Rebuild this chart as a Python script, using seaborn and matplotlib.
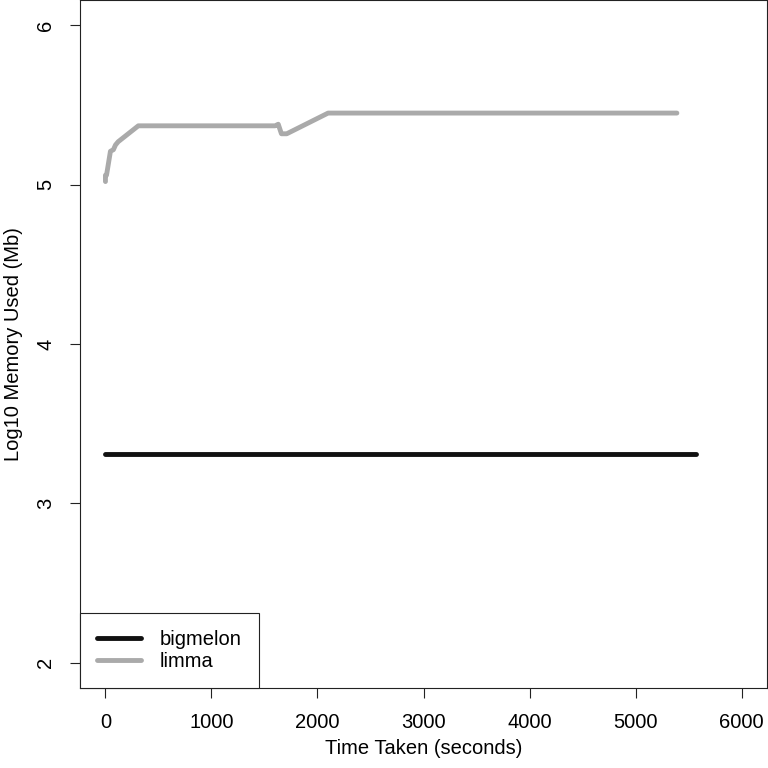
import numpy as np
import pandas as pd
import seaborn as sns
import matplotlib.pyplot as plt
from matplotlib.lines import Line2D

# memory usage over time
bigmelon_time = [0, 5570]
bigmelon_mem = [3.31, 3.31]

limma_time = [0, 0, 10, 20, 47, 75, 95, 120, 310, 1600, 1630, 1660, 1710, 2100, 2150, 5390]
limma_mem = [5.02, 5.06, 5.06, 5.10, 5.21, 5.22, 5.25, 5.27, 5.37, 5.37, 5.38, 5.32, 5.32, 5.45, 5.45, 5.45]

df = pd.concat([
    pd.DataFrame({"time": bigmelon_time, "mem": bigmelon_mem, "method": "bigmelon"}),
    pd.DataFrame({"time": limma_time, "mem": limma_mem, "method": "limma"}),
], ignore_index=True)

sns.set_style("ticks")
plt.rcParams["font.family"] = ["Liberation Sans", "DejaVu Sans"]
plt.rcParams["text.color"] = "black"
plt.rcParams["axes.labelcolor"] = "black"
plt.rcParams["xtick.color"] = "black"
plt.rcParams["ytick.color"] = "black"

fig = plt.figure(figsize=(7.68, 7.68), dpi=100)
ax = fig.add_axes([80 / 768, 80 / 768, 687 / 768, 688 / 768])

sns.lineplot(data=df, x="time", y="mem", hue="method", sort=False,
             palette={"bigmelon": "#111111", "limma": "#aaaaaa"},
             linewidth=3.5, ax=ax, estimator=None, legend=False)

ax.set_xlim(-240, 6240)
ax.set_ylim(1.84, 6.16)
ax.set_xticks(range(0, 7000, 1000))
ax.set_yticks([2, 3, 4, 5, 6])
ax.tick_params(axis="both", labelsize=14.5, length=7, width=0.8, pad=11, color="#222222")
plt.setp(ax.get_yticklabels(), rotation=90, va="center")
for s in ax.spines.values():
    s.set_visible(True)
    s.set_linewidth(0.8)
    s.set_color("#222222")

ax.set_xlabel("Time Taken (seconds)", fontsize=14.5, labelpad=5)
ax.set_ylabel("Log10 Memory Used (Mb)", fontsize=14.5, labelpad=9)

handles = [Line2D([], [], color="#111111", lw=3.5), Line2D([], [], color="#aaaaaa", lw=3.5)]
leg = ax.legend(handles, ["bigmelon", "limma"], loc="lower left", bbox_to_anchor=(0, 0),
                borderaxespad=0, fontsize=14.5, fancybox=False, framealpha=1,
                edgecolor="#222222", handlelength=2.2, labelspacing=0.12,
                borderpad=0.85, handletextpad=0.9)
leg.get_frame().set_linewidth(0.8)

fig.savefig("out.png", dpi=100)
